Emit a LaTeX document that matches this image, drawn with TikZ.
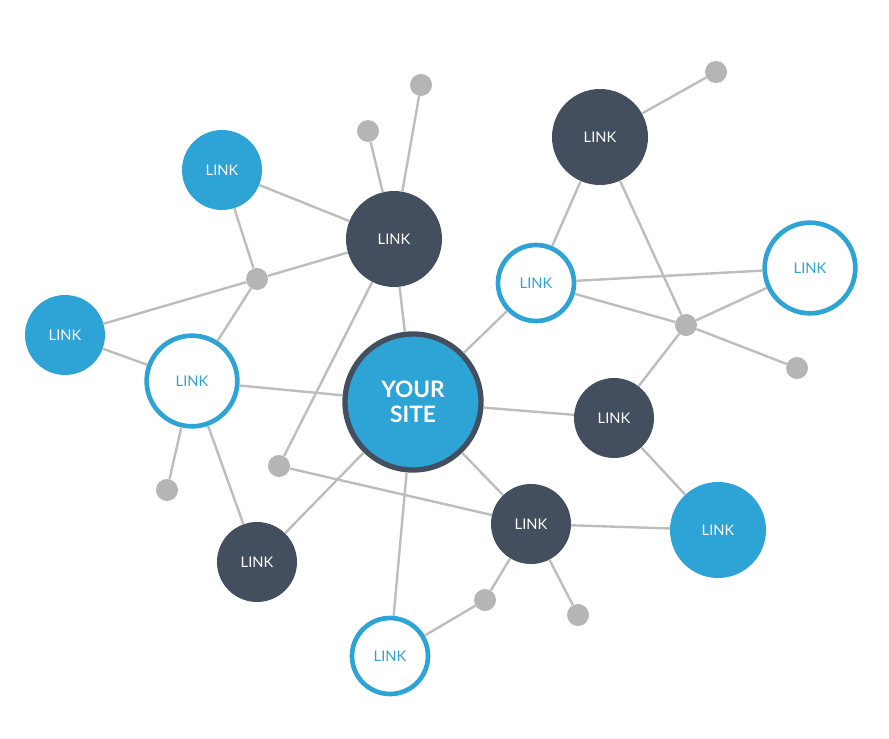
\documentclass[tikz,border=0pt]{standalone}
\usepackage{fontspec}
\setmainfont{Lato}
\usetikzlibrary{positioning}
\definecolor{siteblue}{HTML}{2EA3D5}
\definecolor{sitedark}{HTML}{434F5E}
\definecolor{dotgray}{HTML}{B5B5B5}
\definecolor{linegray}{HTML}{BDBDBD}

\begin{document}
\begin{tikzpicture}[x=0.75pt,y=-0.75pt]
\tikzset{
    site/.style={circle, fill=siteblue, draw=sitedark, line width=4pt, minimum size=102pt, text=white, font=\bfseries\fontsize{17}{19}\selectfont, align=center},
    darkbig/.style={circle, fill=sitedark, minimum size=72pt, text=white, font=\fontsize{11}{13}\selectfont},
    darksmall/.style={darkbig, minimum size=60pt},
    bluebig/.style={circle, fill=siteblue, minimum size=72pt, text=white, font=\fontsize{11}{13}\selectfont},
    bluesmall/.style={bluebig, minimum size=60pt},
    ringbig/.style={circle, fill=white, draw=siteblue, line width=3.5pt, minimum size=68pt, text=siteblue, font=\fontsize{11}{13}\selectfont},
    ringsmall/.style={ringbig, minimum size=57pt},
    dot/.style={circle, fill=dotgray, inner sep=0pt, minimum size=16.5pt},
    edge/.style={draw=linegray, line width=1.8pt}
}
\useasboundingbox (0,0) rectangle (889,739);

% central node and links
\node[site] (S) at (413,402) {YOUR\\SITE};
\node[darkbig] (D1) at (394,239) {LINK};
\node[darkbig] (D2) at (600,137) {LINK};
\node[darksmall] (D3) at (614,418) {LINK};
\node[darksmall] (D4) at (531,524) {LINK};
\node[darksmall] (D5) at (257,562) {LINK};
\node[bluesmall] (B1) at (222,170) {LINK};
\node[bluesmall] (B2) at (65,335) {LINK};
\node[bluebig] (B3) at (718,530) {LINK};
\node[ringbig] (R1) at (192,381) {LINK};
\node[ringsmall] (R2) at (536,283) {LINK};
\node[ringbig] (R3) at (810,268) {LINK};
\node[ringsmall] (R4) at (390,656) {LINK};

% small gray dots
\node[dot] (H1) at (257,279) {};
\node[dot] (H2) at (686,325) {};
\node[dot] (P1) at (421,85) {};
\node[dot] (P2) at (368,131) {};
\node[dot] (P3) at (167,490) {};
\node[dot] (P4) at (279,466) {};
\node[dot] (P5) at (485,600) {};
\node[dot] (P6) at (578,615) {};
\node[dot] (P7) at (716,72) {};
\node[dot] (P8) at (797,368) {};

% connectors
\draw[edge] (P1) -- (D1);
\draw[edge] (P2) -- (D1);
\draw[edge] (B1) -- (D1);
\draw[edge] (B1) -- (H1);
\draw[edge] (H1) -- (D1);
\draw[edge] (H1) -- (B2);
\draw[edge] (H1) -- (R1);
\draw[edge] (B2) -- (R1);
\draw[edge] (R1) -- (S);
\draw[edge] (R1) -- (P3);
\draw[edge] (R1) -- (D5);
\draw[edge] (D1) -- (S);
\draw[edge] (D1) -- (P4);
\draw[edge] (P4) -- (D4);
\draw[edge] (S) -- (R2);
\draw[edge] (S) -- (D3);
\draw[edge] (S) -- (D4);
\draw[edge] (S) -- (D5);
\draw[edge] (S) -- (R4);
\draw[edge] (R4) -- (P5);
\draw[edge] (P5) -- (D4);
\draw[edge] (D4) -- (P6);
\draw[edge] (D4) -- (B3);
\draw[edge] (D3) -- (B3);
\draw[edge] (D3) -- (H2);
\draw[edge] (H2) -- (R2);
\draw[edge] (H2) -- (D2);
\draw[edge] (H2) -- (R3);
\draw[edge] (H2) -- (P8);
\draw[edge] (R2) -- (D2);
\draw[edge] (R2) -- (R3);
\draw[edge] (D2) -- (P7);
\end{tikzpicture}
\end{document}
